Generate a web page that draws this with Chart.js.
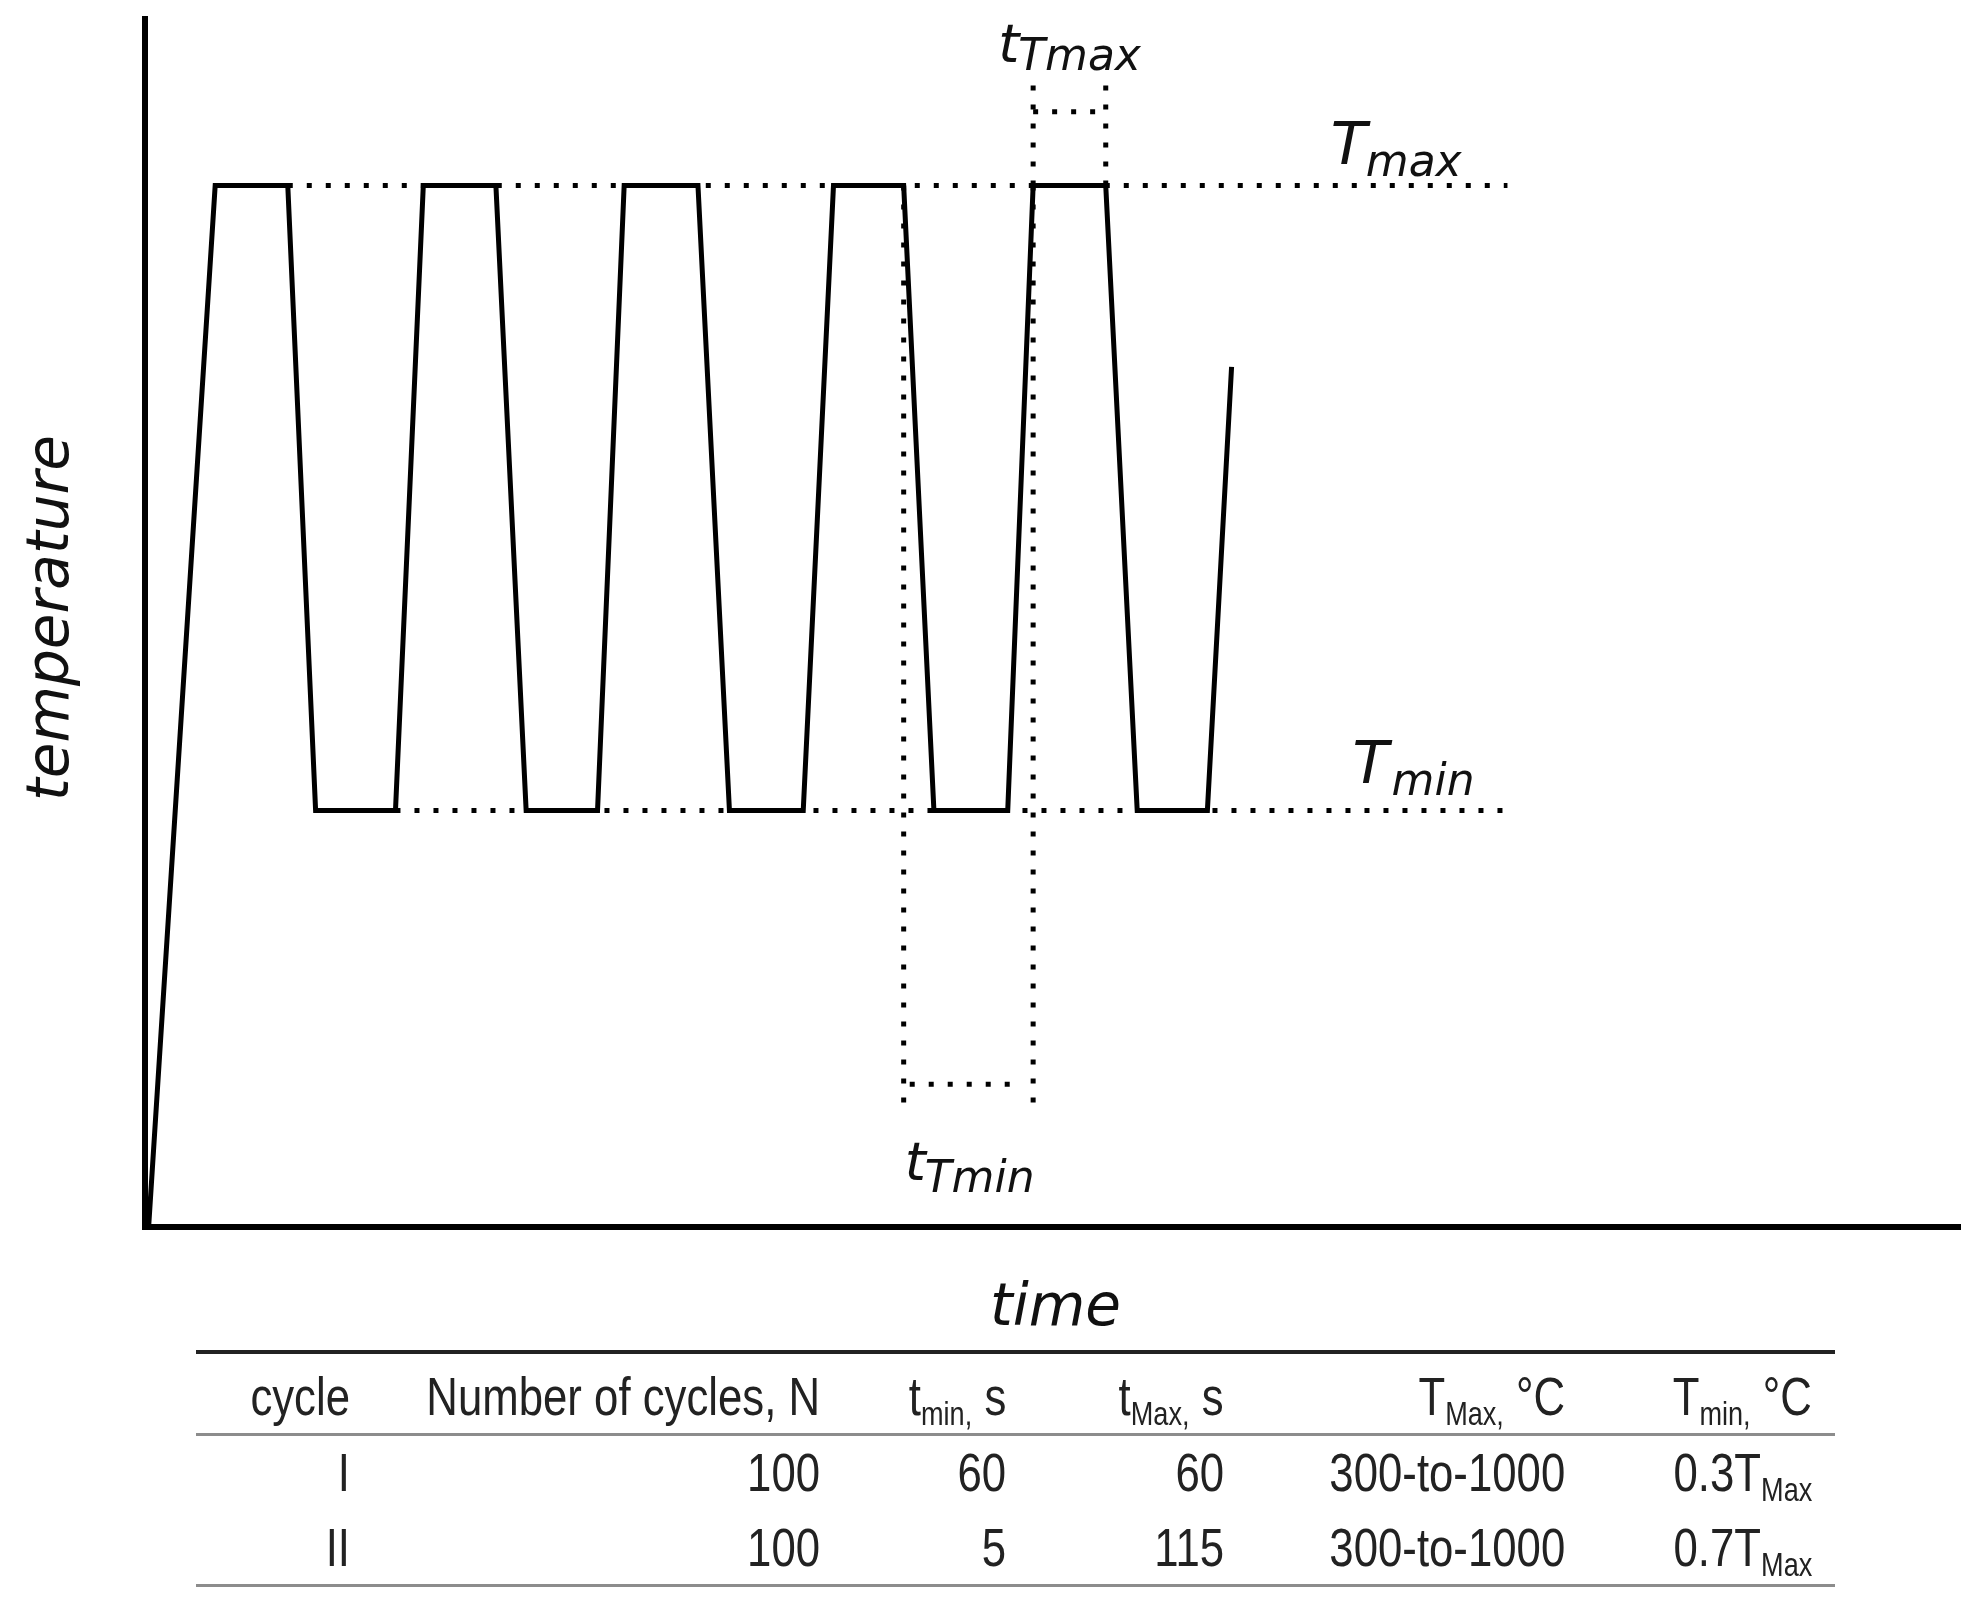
<!DOCTYPE html>
<html>
<head>
<meta charset="utf-8">
<title>Thermal cycling schedule</title>
<script src="https://cdn.jsdelivr.net/npm/chart.js@4.4.0/dist/chart.umd.min.js"></script>
<style>
  html, body { margin: 0; padding: 0; background: #fff; }
  body { width: 1984px; height: 1613px; position: relative; overflow: hidden; }
  #wrap { position: absolute; left: 0; top: 0; width: 1984px; height: 1340px; }
  #params { position: absolute; left: 0; top: 0; width: 1984px; height: 1613px; font-family: "Liberation Sans", Arial, sans-serif; color: #222; }
  .rule { position: absolute; left: 196px; width: 1639px; }
  .cell { position: absolute; height: 60px; line-height: 60px; white-space: nowrap; font-size: 54px; }
  .cell .txt { display: inline-block; transform: scaleX(0.81); transform-origin: 100% 50%; }
  .cell sub { font-size: 62%; vertical-align: -0.3em; line-height: 0; }
</style>
</head>
<body>
<div id="wrap"><canvas id="cycleChart"></canvas></div>
<div id="params"></div>

<script>
// temperature profile (time / temperature in arbitrary units)
const timeData = [3, 58, 118, 141, 207, 230, 290, 315, 374, 396, 457, 483, 544, 569, 627, 652, 713, 734, 794, 820, 878, 898];
const tempData = [0, 1000, 1000, 400, 400, 1000, 1000, 400, 400, 1000, 1000, 400, 400, 1000, 1000, 400, 400, 1000, 1000, 400, 400, 826];

const T_MAX = 1000;
const T_MIN = 400;
const guideStart = [118, 207];      // where the dotted T_max / T_min guides begin
const guideEnd = 1126;

// hold-time brackets
const holdMaxMarks = [734, 794];
const holdMaxTop = 1105;
const holdMaxSpan = 1071;
const holdMinMarks = [627, 734];
const holdMinBottom = 107;
const holdMinSpan = 137;
const holdMinSpanEnds = [632, 723];

const timeMax = 1500;
const tempMax = 1160;

// table below the chart
const tableHeaders = [['cycle'], ['Number of cycles, N'], ['t', 'min,', ' s'], ['t', 'Max,', ' s'], ['T', 'Max,', ' °C'], ['T', 'min,', ' °C']];
const cycleNames = ['I', 'II'];
const cycleCounts = [100, 100];
const tMinHold = [60, 5];
const tMaxHold = [60, 115];
const peakRange = ['300-to-1000', '300-to-1000'];
const minFactor = ['0.3', '0.7'];

function pts(xs, ys) {
    return xs.map((v, i) => ({ x: v, y: ys[i] }));
}

function guide(points) {
    return {
        data: points,
        showLine: true,
        borderColor: '#000',
        borderWidth: 5,
        borderDash: [5, 14],
        pointRadius: 0,
        fill: false,
        tension: 0
    };
}

const datasets = [
    {
        label: 'temperature',
        data: pts(timeData, tempData),
        showLine: true,
        borderColor: '#000',
        borderWidth: 5,
        borderJoinStyle: 'miter',
        pointRadius: 0,
        fill: false,
        tension: 0
    },
    guide([{ x: guideStart[0], y: T_MAX }, { x: guideEnd, y: T_MAX }]),
    guide([{ x: guideStart[1], y: T_MIN }, { x: guideEnd, y: T_MIN }]),
    guide([{ x: holdMaxMarks[0], y: T_MAX }, { x: holdMaxMarks[0], y: holdMaxTop }]),
    guide([{ x: holdMaxMarks[1], y: T_MAX }, { x: holdMaxMarks[1], y: holdMaxTop }]),
    guide([{ x: holdMaxMarks[0], y: holdMaxSpan }, { x: holdMaxMarks[1], y: holdMaxSpan }]),
    guide([{ x: holdMinMarks[0], y: T_MAX }, { x: holdMinMarks[0], y: holdMinBottom }]),
    guide([{ x: holdMinMarks[1], y: T_MAX }, { x: holdMinMarks[1], y: holdMinBottom }]),
    guide([{ x: holdMinSpanEnds[0], y: holdMinSpan }, { x: holdMinSpanEnds[1], y: holdMinSpan }])
];

// symbols such as T_max drawn as main letter + lowered subscript
function drawSymbol(ctx, main, sub, x, y, mainSize, subSize, subDx, subDy) {
    ctx.font = 'italic ' + mainSize + 'px "DejaVu Sans"';
    ctx.fillText(main, x, y);
    ctx.font = 'italic ' + subSize + 'px "DejaVu Sans"';
    ctx.fillText(sub, x + subDx, y + subDy);
}

const labelPlugin = {
    id: 'cycleLabels',
    afterDraw(chart) {
        const { ctx, chartArea, scales: { x, y } } = chart;
        ctx.save();
        ctx.fillStyle = '#111';
        ctx.textAlign = 'left';
        ctx.textBaseline = 'alphabetic';

        drawSymbol(ctx, 'T', 'max', x.getPixelForValue(980), y.getPixelForValue(T_MAX) - 22, 59, 44, 35, 12);
        drawSymbol(ctx, 'T', 'min', x.getPixelForValue(998), y.getPixelForValue(T_MIN) - 27, 59, 44, 39, 12);
        drawSymbol(ctx, 't', 'Tmax', x.getPixelForValue(holdMaxMarks[0]) - 35, y.getPixelForValue(holdMaxTop) - 14, 54, 44, 20, 8);
        drawSymbol(ctx, 't', 'Tmin', x.getPixelForValue(holdMinMarks[0]) + 1, y.getPixelForValue(holdMinBottom) + 64, 54, 44, 20, 12);

        // axis titles
        ctx.font = 'italic 58px "DejaVu Sans"';
        ctx.textAlign = 'center';
        ctx.fillText('time', (chartArea.left + chartArea.right) / 2 + 3, chartArea.bottom + 98);

        ctx.translate(chartArea.left - 77, 618);
        ctx.rotate(-Math.PI / 2);
        ctx.fillText('temperature', 0, 0);
        ctx.restore();
    }
};

new Chart(document.getElementById('cycleChart').getContext('2d'), {
    type: 'scatter',
    data: { datasets: datasets },
    options: {
        responsive: true,
        maintainAspectRatio: false,
        animation: false,
        devicePixelRatio: 1,
        layout: { padding: { left: 145, top: 19, right: 24, bottom: 113 } },
        plugins: { legend: { display: false }, tooltip: { enabled: false } },
        scales: {
            x: {
                type: 'linear',
                min: 0,
                max: timeMax,
                ticks: { display: false },
                grid: { display: false, drawTicks: false },
                border: { display: true, color: '#000', width: 6 }
            },
            y: {
                type: 'linear',
                min: 0,
                max: tempMax,
                ticks: { display: false },
                grid: { display: false, drawTicks: false },
                border: { display: true, color: '#000', width: 6 }
            }
        }
    },
    plugins: [labelPlugin]
});

// --- parameter table ---
const colRight = [350, 820, 1006, 1224, 1565, 1812];
const rowMid = [1396, 1472, 1547];

function symHtml(parts) {
    let s = parts[0];
    if (parts[1]) s += '<sub>' + parts[1] + '</sub>';
    if (parts[2]) s += parts[2];
    return s;
}

function addCell(box, html, col, row) {
    const d = document.createElement('div');
    d.className = 'cell';
    d.style.right = (1984 - colRight[col]) + 'px';
    d.style.top = (rowMid[row] - 30) + 'px';
    d.innerHTML = '<span class="txt">' + html + '</span>';
    box.appendChild(d);
}

function addRule(box, top, h, color) {
    const r = document.createElement('div');
    r.className = 'rule';
    r.style.top = top + 'px';
    r.style.height = h + 'px';
    r.style.background = color;
    box.appendChild(r);
}

const box = document.getElementById('params');
addRule(box, 1350, 4, '#222');
addRule(box, 1433, 3, '#8c8c8c');
addRule(box, 1584, 3, '#8c8c8c');

tableHeaders.forEach((h, i) => addCell(box, symHtml(h), i, 0));
cycleNames.forEach((name, r) => {
    addCell(box, name, 0, r + 1);
    addCell(box, String(cycleCounts[r]), 1, r + 1);
    addCell(box, String(tMinHold[r]), 2, r + 1);
    addCell(box, String(tMaxHold[r]), 3, r + 1);
    addCell(box, peakRange[r], 4, r + 1);
    addCell(box, symHtml([minFactor[r] + 'T', 'Max']), 5, r + 1);
});
</script>
</body>
</html>
